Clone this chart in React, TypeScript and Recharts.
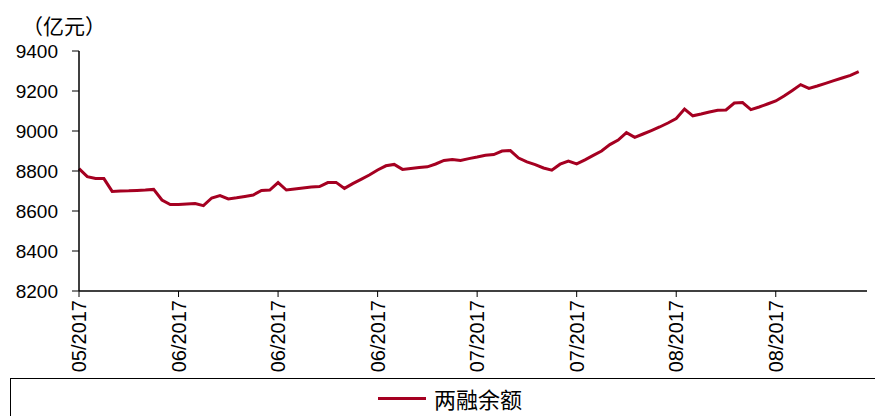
import { LineChart, Line, XAxis, YAxis, Legend } from "recharts";

// 两融余额 (亿元), one value per trading day
const balance = [
  8812, 8772, 8763, 8762, 8698, 8700, 8701, 8703, 8705, 8708,
  8655, 8632, 8633, 8635, 8637, 8627, 8665, 8677, 8660, 8666,
  8673, 8680, 8703, 8705, 8742, 8705, 8710, 8715, 8720, 8722,
  8742, 8743, 8713, 8737, 8758, 8780, 8805, 8826, 8833, 8808,
  8813, 8817, 8821, 8835, 8853, 8858, 8853, 8862, 8870, 8879,
  8882, 8900, 8902, 8865, 8846, 8832, 8815, 8804, 8834, 8850,
  8836, 8856, 8878, 8900, 8932, 8955, 8992, 8968, 8985, 9002,
  9020, 9040, 9062, 9110, 9076, 9085, 9095, 9104, 9105, 9140,
  9142, 9107, 9120, 9135, 9150, 9175, 9203, 9232, 9213, 9225,
  9238, 9252, 9265, 9278, 9297,
];

const xTickPos = [0, 12, 24, 36, 48, 60, 72, 84];
const xTickLabels = ["05/2017", "06/2017", "06/2017", "06/2017", "07/2017", "07/2017", "08/2017", "08/2017"];
const yTicks = [8200, 8400, 8600, 8800, 9000, 9200, 9400];

const seriesName = "两融余额";
const RED = "#A50021";
const FONT = "'Liberation Sans', Arial, sans-serif";
const CJK = "'Noto Sans CJK SC', sans-serif";

const data = balance.map((v, i) => ({ i, v }));

const XTick = (props: any) => {
  const { x, y, payload } = props;
  const label = xTickLabels[xTickPos.indexOf(payload.value)];
  return (
    <text
      x={x}
      y={y}
      transform={`rotate(-90, ${x}, ${y})`}
      textAnchor="end"
      dy="0.36em"
      fontSize={20}
      fontFamily={FONT}
      fill="#000"
    >
      {label}
    </text>
  );
};

const LegendBox = () => (
  <div
    style={{
      width: 880,
      height: 40,
      border: "1px solid #000",
      boxSizing: "border-box",
      display: "flex",
      alignItems: "center",
      justifyContent: "center",
      fontFamily: CJK,
      fontSize: 22,
      color: "#000",
    }}
  >
    <span style={{ display: "inline-block", width: 48, height: 3, background: RED, marginRight: 8, marginLeft: 0 }} />
    {seriesName}
  </div>
);

export default function App() {
  return (
    <div style={{ position: "absolute", left: 0, top: 0, width: 875, height: 416, background: "#fff", overflow: "hidden" }}>
      <div style={{ position: "absolute", left: 22, top: 10, fontFamily: CJK, fontSize: 21, color: "#000" }}>
        （亿元）
      </div>
      <LineChart width={875} height={416} data={data} margin={{ top: 51, right: 8, left: 19, bottom: 40 }}>
        <XAxis
          dataKey="i"
          type="number"
          domain={[0, 95]}
          ticks={xTickPos}
          interval={0}
          tick={<XTick />}
          tickSize={6}
          tickMargin={3}
          height={85}
          stroke="#000"
          tickLine={{ stroke: "#000" }}
          axisLine={{ stroke: "#000", strokeWidth: 1.5 }}
        />
        <YAxis
          domain={[8200, 9400]}
          ticks={yTicks}
          interval={0}
          width={60}
          tickSize={7}
          tickMargin={14}
          stroke="#000"
          tick={{ fill: "#000", fontSize: 19, fontFamily: FONT }}
          axisLine={{ stroke: "#000", strokeWidth: 1.5 }}
        />
        <Legend
          layout="horizontal"
          verticalAlign="middle"
          align="center"
          wrapperStyle={{ top: 378, left: 10, width: 880, height: 40 }}
          content={<LegendBox />}
        />
        <Line
          type="linear"
          dataKey="v"
          name={seriesName}
          stroke={RED}
          strokeWidth={3}
          dot={false}
          activeDot={false}
          isAnimationActive={false}
        />
      </LineChart>
    </div>
  );
}
